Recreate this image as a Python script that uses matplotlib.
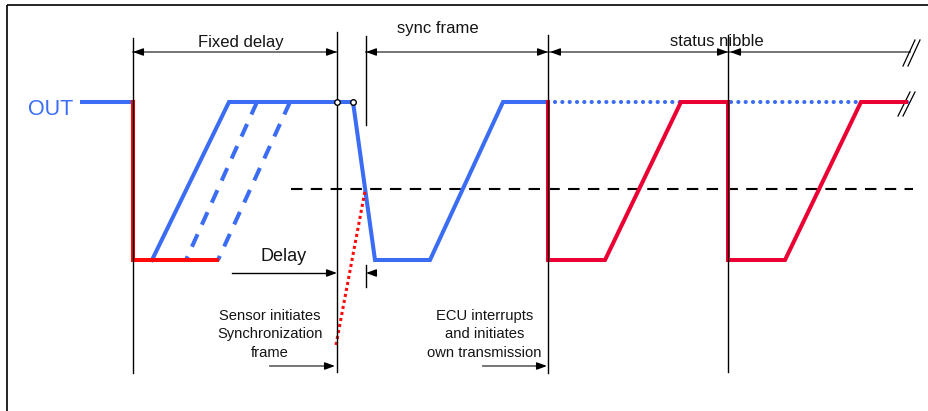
"""Diagrama de tiempos SENT: sincronizacion iniciada por el sensor / ECU."""
import matplotlib.pyplot as plt

plt.rcParams['font.family'] = ['Liberation Sans', 'DejaVu Sans']

# niveles de la senal (eje vertical hacia abajo, como en el dibujo)
HIGH = 102
LOW = 260
THRESH = 189

# senal OUT en reposo y flancos
out_x = [80, 133]
out_y = [HIGH, HIGH]
blue_x = [152, 229, 353, 375, 430, 503, 548]
blue_y = [LOW, HIGH, HIGH, LOW, LOW, HIGH, HIGH]
dash1_x = [257, 186]
dash2_x = [290, 218]
dash_y = [HIGH, LOW]
idle_x = [555, 912]
red0_x = [133, 133, 217]
red0_y = [HIGH, LOW, LOW]
red_x = [548, 548, 605, 681, 728, 728, 785, 861, 906]
red_y = [HIGH, LOW, LOW, HIGH, HIGH, LOW, LOW, HIGH, HIGH]
sync_x = [336, 365]
sync_y = [345, 191]
thresh_x = [291, 913]
node_x = [337, 353]

# lineas verticales de referencia: (x, y inicio, y fin)
vlines = [(133, 38, 373), (337, 32, 372), (366, 36, 125), (366, 265, 287),
          (548, 35, 373), (728, 35, 372)]

fig = plt.figure(figsize=(9.29, 4.11), dpi=100)
ax = fig.add_axes([0, 0, 1, 1])
ax.set_xlim(0, 929)
ax.set_ylim(411, 0)
ax.axis('off')

BLUE = '#3a6cf4'
RED = '#ff0a0a'
CRIMSON = '#ea0032'
GRAY = '#6a6a6a'
TXT = '#141414'

# marco
ax.plot([7, 929], [5, 5], color='black', lw=1.2, solid_capstyle='butt')
ax.plot([7, 7], [5, 411], color='black', lw=1.2, solid_capstyle='butt')


def head(x, y, d):
    """punta de flecha negra con la punta en (x, y); d=+1 apunta a la derecha"""
    ax.annotate('', xy=(x, y), xytext=(x - d * 9, y),
                arrowprops=dict(arrowstyle='-|>,head_length=0.6,head_width=0.22',
                                color='black', lw=1.0, shrinkA=0, shrinkB=0),
                zorder=6)


# cotas superiores
ax.plot([133, 337], [52, 52], color=GRAY, lw=1.3)
head(133, 52, -1)
head(337, 52, 1)
ax.plot([366, 910], [52, 52], color=GRAY, lw=1.3)
head(366, 52, -1)
head(548, 52, 1)
head(550, 52, -1)
head(728, 52, 1)
head(730, 52, -1)

ax.text(241, 47, 'Fixed delay', ha='center', va='baseline', fontsize=12, color=TXT)
ax.text(438, 32.5, 'sync frame', ha='center', va='baseline', fontsize=12, color=TXT)
ax.text(717, 46, 'status nibble', ha='center', va='baseline', fontsize=12, color=TXT)

# marcas de corte //
for bx, by, h in [(909, 53, 13), (904, 104, 12)]:
    for off in (0, 5):
        ax.plot([bx - 6 + off, bx + 6 + off], [by + h, by - h], color='black', lw=0.9)

# lineas verticales
for x, y0, y1 in vlines:
    ax.plot([x, x], [y0, y1], color='black', lw=1.0, zorder=5)

# umbral
ax.plot(thresh_x, [THRESH, THRESH], color='black', lw=1.5, dashes=(5.5, 4), zorder=2)

# senales
ax.plot(out_x, out_y, color=BLUE, lw=2.9, solid_capstyle='butt', zorder=3)
ax.plot(blue_x, blue_y, color=BLUE, lw=2.9, solid_joinstyle='miter', zorder=3)
for dx in (dash1_x, dash2_x):
    ax.plot(dx, dash_y, color=BLUE, lw=2.9, dashes=(3.4, 2.6), zorder=3)
ax.plot(idle_x, [HIGH, HIGH], color=BLUE, lw=3.0, dashes=(0.01, 1.75),
        dash_capstyle='round', zorder=3)
ax.plot(red0_x, red0_y, color=RED, lw=2.9, solid_joinstyle='miter', zorder=4)
ax.plot(red_x, red_y, color=CRIMSON, lw=2.9, solid_joinstyle='miter', zorder=4)
ax.plot(sync_x, sync_y, color=RED, lw=2.2, dashes=(1, 1), zorder=4)
ax.plot(node_x, [HIGH, HIGH], ls='none', marker='o', ms=4, mfc='white',
        mec='black', mew=1.0, zorder=7)

ax.text(28, 115, 'OUT', ha='left', va='baseline', fontsize=15.5, color=BLUE)

# cota Delay
ax.text(283.5, 261, 'Delay', ha='center', va='baseline', fontsize=13, color=TXT)
ax.plot([232, 330], [273, 273], color='black', lw=1.0)
head(337, 273, 1)
head(366, 273, -1)

# notas inferiores
sensor_lines = ['Sensor initiates', 'Synchronization', 'frame']
ecu_lines = ['ECU interrupts', 'and initiates', 'own transmission']
for i, (s, e) in enumerate(zip(sensor_lines, ecu_lines)):
    yb = 320 + i * 18.3
    ax.text(270, yb, s, ha='center', va='baseline', fontsize=10.6, color=TXT)
    ax.text(484.5, yb, e, ha='center', va='baseline', fontsize=10.6, color=TXT)
ax.plot([270, 330], [366, 366], color=GRAY, lw=1.3)
head(335, 366, 1)
ax.plot([483, 540], [366, 366], color=GRAY, lw=1.3)
head(547, 366, 1)

fig.savefig('out.png', dpi=100)
